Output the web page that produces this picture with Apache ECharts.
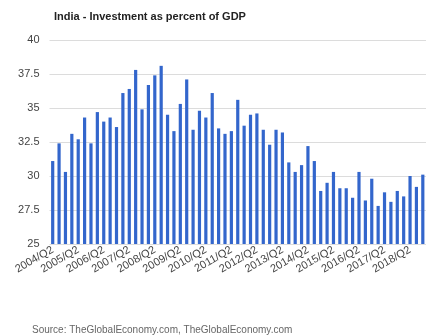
<!DOCTYPE html>
<html>
<head>
<meta charset="utf-8">
<script src="https://cdn.jsdelivr.net/npm/echarts@6/dist/echarts.min.js"></script>
<style>
  html, body { margin: 0; padding: 0; background: #fff; }
  #chart { width: 427px; height: 335px; }
</style>
</head>
<body>
<div id="chart"></div>
<script>
// quarters 2004/Q2 .. 2018/Q4
var quarters = []
for (var y = 2004; y <= 2018; y++) {
    for (var q = 1; q <= 4; q++) {
        if (y == 2004 && q == 1) continue
        quarters.push(y + '/Q' + q)
    }
}

var investment = [
    31.1, 32.4, 30.3, 33.1, 32.7, 34.3, 32.4, 34.7, 34.0, 34.3,
    33.6, 36.1, 36.4, 37.8, 34.9, 36.7, 37.4, 38.1, 34.5, 33.3,
    35.3, 37.1, 33.4, 34.8, 34.3, 36.1, 33.5, 33.1, 33.3, 35.6,
    33.7, 34.5, 34.6, 33.4, 32.3, 33.4, 33.2, 31.0, 30.3, 30.8,
    32.2, 31.1, 28.9, 29.5, 30.3, 29.1, 29.1, 28.4, 30.3, 28.2,
    29.8, 27.8, 28.8, 28.1, 28.9, 28.5, 30.0, 29.2, 30.1
]

var yTicks = [25, 27.5, 30, 32.5, 35, 37.5, 40]

var option = {
    animation: false,
    title: {
        text: 'India - Investment as percent of GDP',
        left: 49,
        top: 6,
        textStyle: { fontFamily: 'Liberation Sans', fontSize: 11, fontWeight: 'bold', color: '#222' }
    },
    graphic: [{
        type: 'text',
        left: 32,
        top: 325,
        style: { text: 'Source: TheGlobalEconomy.com, TheGlobalEconomy.com', fontFamily: 'Liberation Sans', fontSize: 10, fill: '#666' }
    }],
    grid: { left: 49.5, right: 1, top: 40, bottom: 91 },
    xAxis: {
        type: 'category',
        data: quarters,
        axisLine: { show: false },
        axisTick: { show: false },
        axisLabel: {
            interval: 3,
            rotate: 30,
            margin: 5,
            fontFamily: 'Liberation Sans',
            fontSize: 11,
            color: '#444'
        }
    },
    yAxis: {
        type: 'value',
        min: yTicks[0],
        max: yTicks[yTicks.length - 1],
        interval: 2.5,
        axisLabel: { fontFamily: 'Liberation Sans', fontSize: 11, color: '#444', margin: 10 },
        splitLine: { lineStyle: { color: '#dcdcdc' } }
    },
    series: [{
        type: 'bar',
        data: investment,
        barWidth: 3.2,
        itemStyle: { color: '#3366cc' }
    }]
}

var chart = echarts.init(document.getElementById('chart'))
chart.setOption(option)
</script>
</body>
</html>
